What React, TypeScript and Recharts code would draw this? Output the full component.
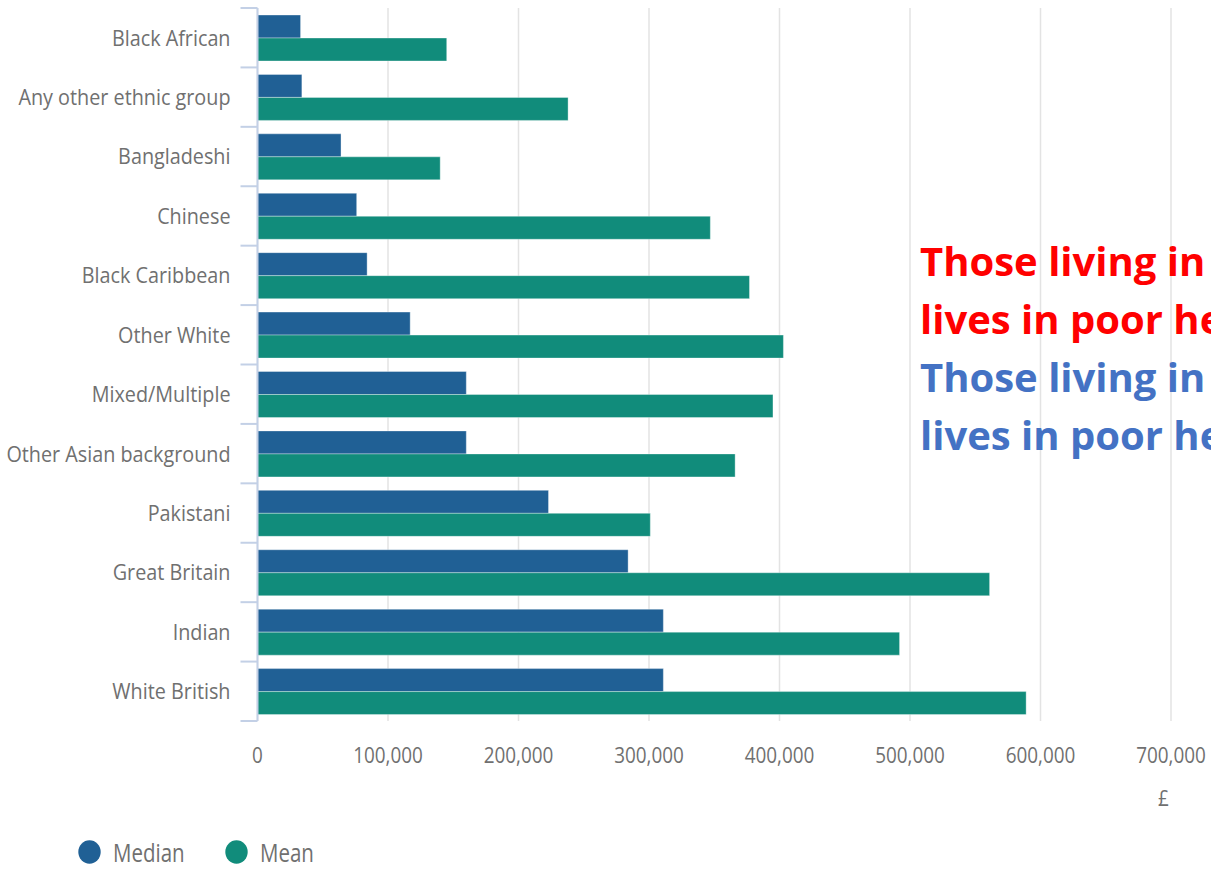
import { BarChart, Bar, XAxis, YAxis, CartesianGrid } from 'recharts';

const categories = [
  'Black African',
  'Any other ethnic group',
  'Bangladeshi',
  'Chinese',
  'Black Caribbean',
  'Other White',
  'Mixed/Multiple',
  'Other Asian background',
  'Pakistani',
  'Great Britain',
  'Indian',
  'White British',
];
const medianValues = [33000, 34000, 64000, 76000, 84000, 117000, 160000, 160000, 223000, 284000, 311000, 311000];
const meanValues = [145000, 238000, 140000, 347000, 377000, 403000, 395000, 366000, 301000, 561000, 492000, 589000];
const xTicks = [0, 100000, 200000, 300000, 400000, 500000, 600000, 700000];

const chartData = categories.map((name, i) => ({
  name,
  median: medianValues[i],
  mean: meanValues[i],
}));

const WIDTH = 1211;
const HEIGHT = 870;
const MARGIN = { top: 8, right: 40, bottom: 89, left: 0 };
const X_AXIS_HEIGHT = 60;
const PLOT_HEIGHT = HEIGHT - MARGIN.top - MARGIN.bottom - X_AXIS_HEIGHT;
const BAND = PLOT_HEIGHT / categories.length;

// the source screenshot is squeezed horizontally, so text is too
const LABEL_SQUEEZE = 0.9;
const TICK_SQUEEZE = 0.86;
const FONT = '"Open Sans", sans-serif';
const TEXT = '#707070';
const AXIS = '#c3d0e6';
const BLUE = '#206095';
const GREEN = '#118c7b';

const series = [
  { key: 'median', name: 'Median', color: BLUE },
  { key: 'mean', name: 'Mean', color: GREEN },
];

function formatNumber(v: number) {
  return String(v).replace(/\B(?=(\d{3})+(?!\d))/g, ',');
}

function CategoryTick({ x, y, payload, index }: any) {
  const top = y - BAND / 2;
  return (
    <g>
      <line x1={x + 10} x2={x + 27} y1={top} y2={top} stroke={AXIS} strokeWidth={2} />
      {index === categories.length - 1 && (
        <line x1={x + 10} x2={x + 27} y1={top + BAND} y2={top + BAND} stroke={AXIS} strokeWidth={2} />
      )}
      <text
        transform={`translate(${x},${y}) scale(${LABEL_SQUEEZE},1)`}
        textAnchor="end"
        dy="0.36em"
        fill={TEXT}
        fontSize={22}
        fontFamily={FONT}
      >
        {payload.value}
      </text>
    </g>
  );
}

function ValueTick({ x, y, payload }: any) {
  return (
    <text
      transform={`translate(${x},${y}) scale(${TICK_SQUEEZE},1)`}
      textAnchor="middle"
      dy="0.71em"
      fill={TEXT}
      fontSize={22}
      fontFamily={FONT}
    >
      {formatNumber(payload.value)}
    </text>
  );
}

const legendLeft = [78, 225];

const noteLine = {
  fontFamily: FONT,
  fontWeight: 700,
  fontSize: 40,
  lineHeight: '58px',
  whiteSpace: 'nowrap' as const,
};

export default function App() {
  return (
    <div style={{ position: 'absolute', left: 0, top: 0, width: WIDTH, height: HEIGHT, overflow: 'hidden', background: '#fff' }}>
      <BarChart
        width={WIDTH}
        height={HEIGHT}
        data={chartData}
        layout="vertical"
        margin={MARGIN}
        barGap={0}
      >
        <CartesianGrid horizontal={false} stroke="#e3e3e3" strokeWidth={1.5} />
        <XAxis
          type="number"
          domain={[0, 700000]}
          ticks={xTicks}
          height={X_AXIS_HEIGHT}
          axisLine={false}
          tickLine={false}
          tickSize={0}
          tickMargin={26}
          tick={<ValueTick />}
          interval={0}
        />
        <YAxis
          type="category"
          dataKey="name"
          width={257.5}
          axisLine={{ stroke: AXIS, strokeWidth: 2 }}
          tickLine={false}
          tickSize={17}
          tickMargin={10}
          tick={<CategoryTick />}
          interval={0}
        />
        {series.map((s) => (
          <Bar
            key={s.key}
            dataKey={s.key}
            name={s.name}
            fill={s.color}
            stroke="rgba(255,255,255,0.35)"
            barSize={23}
            isAnimationActive={false}
          />
        ))}
      </BarChart>

      {series.map((s, i) => (
        <div
          key={s.key}
          style={{ position: 'absolute', left: legendLeft[i], top: 840, height: 24, display: 'flex', alignItems: 'center' }}
        >
          <svg width={23} height={24}>
            <ellipse cx={11.5} cy={12} rx={11.2} ry={11.7} fill={s.color} />
          </svg>
          <span
            style={{
              fontFamily: FONT,
              fontSize: 25,
              lineHeight: '24px',
              color: TEXT,
              marginLeft: 12,
              display: 'inline-block',
              transform: 'scaleX(0.82)',
              transformOrigin: 'left center',
              whiteSpace: 'nowrap',
            }}
          >
            {s.name}
          </span>
        </div>
      ))}

      <div
        style={{
          position: 'absolute',
          left: 1158,
          top: 782,
          fontFamily: FONT,
          fontSize: 22,
          color: TEXT,
          transform: `scaleX(${TICK_SQUEEZE})`,
          transformOrigin: 'left top',
        }}
      >
        £
      </div>

      <div style={{ position: 'absolute', left: 920, top: 232, width: WIDTH - 920, overflow: 'hidden' }}>
        <div style={{ ...noteLine, color: '#ff0000' }}>Those living in</div>
        <div style={{ ...noteLine, color: '#ff0000' }}>lives in poor health</div>
        <div style={{ ...noteLine, color: '#4472c4' }}>Those living in</div>
        <div style={{ ...noteLine, color: '#4472c4' }}>lives in poor health</div>
      </div>
    </div>
  );
}
